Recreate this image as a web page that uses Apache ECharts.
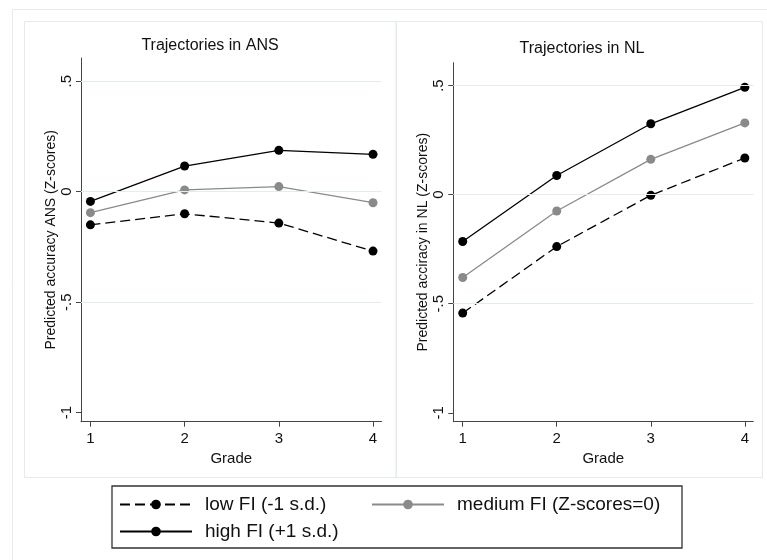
<!DOCTYPE html>
<html>
<head>
<meta charset="utf-8">
<script src="https://cdn.jsdelivr.net/npm/echarts@6/dist/echarts.min.js"></script>
<style>
    html, body { margin: 0; padding: 0; background: #fff; }
    #chart { width: 767px; height: 560px; }
</style>
</head>
<body>
<div id="chart"></div>
<script>
    // grade on the x axis
    let grades = [1, 2, 3, 4];
    let yTicks = [-1, -0.5, 0, 0.5];
    let gridValues = [-0.5, 0, 0.5];

    // ANS panel
    let ansLow = [-0.150, -0.100, -0.142, -0.269];
    let ansMedium = [-0.095, 0.008, 0.023, -0.050];
    let ansHigh = [-0.044, 0.116, 0.187, 0.169];

    // NL panel
    let nlLow = [-0.543, -0.238, -0.003, 0.168];
    let nlMedium = [-0.380, -0.075, 0.162, 0.329];
    let nlHigh = [-0.215, 0.088, 0.325, 0.492];

    let names = ['low FI (-1 s.d.)', 'medium FI (Z-scores=0)', 'high FI (+1 s.d.)'];
    let titles = ['Trajectories in ANS', 'Trajectories in NL'];
    let yNames = ['Predicted accuracy ANS (Z-scores)', 'Predicted acciracy in NL (Z-scores)'];

    const font = 'Liberation Sans, Arial, sans-serif';
    const ink = '#111';
    const frame = '#e3ebef';

    function stataLabel(v) {
        if (v === 0) return '0';
        return String(v).replace('0.', '.');
    }

    function pairs(values) {
        return values.map((v, i) => [grades[i], v]);
    }

    function xAxisFor(idx) {
        return {
            type: 'value',
            gridIndex: idx,
            min: 0.9,
            max: 4.09,
            name: 'Grade',
            nameLocation: 'middle',
            nameGap: 23,
            nameTextStyle: { color: ink, fontSize: 15, fontFamily: font },
            axisLine: { show: true, onZero: false, lineStyle: { color: '#444', width: 1 } },
            axisTick: { show: true, length: 5, customValues: grades, lineStyle: { color: '#444' } },
            axisLabel: { customValues: grades, margin: 10, color: ink, fontSize: 15, fontFamily: font },
            splitLine: { show: false }
        };
    }

    function yAxisFor(idx, name) {
        return {
            type: 'value',
            gridIndex: idx,
            min: -1.041,
            max: 0.605,
            name: name,
            nameLocation: 'middle',
            nameRotate: 90,
            nameGap: 23,
            nameTextStyle: { color: ink, fontSize: 14, fontFamily: font },
            axisLine: { show: true, onZero: false, lineStyle: { color: '#444', width: 1 } },
            axisTick: { show: true, length: 5, customValues: yTicks, lineStyle: { color: '#444' } },
            axisLabel: {
                customValues: yTicks, rotate: 90, margin: 7,
                color: ink, fontSize: 15, fontFamily: font,
                formatter: stataLabel
            },
            splitLine: { show: false }
        };
    }

    function lineSeries(name, values, idx, style) {
        return {
            type: 'line',
            name: name,
            xAxisIndex: idx,
            yAxisIndex: idx,
            data: pairs(values),
            symbol: 'circle',
            symbolSize: 9,
            z: 3,
            itemStyle: { color: style.color },
            lineStyle: { color: style.color, width: style.width, type: style.type },
            emphasis: { disabled: true }
        };
    }

    // light gridlines at the inner ticks only
    function gridSeries(idx) {
        return {
            type: 'line',
            xAxisIndex: idx,
            yAxisIndex: idx,
            data: [],
            z: 1,
            silent: true,
            markLine: {
                silent: true,
                symbol: 'none',
                label: { show: false },
                lineStyle: { color: '#e2edf0', width: 1, type: 'solid' },
                data: gridValues.map(v => ({ yAxis: v }))
            }
        };
    }

    let lowStyle = { color: '#000', width: 1.3, type: [10, 5] };
    let mediumStyle = { color: '#8a8a8a', width: 1.3, type: 'solid' };
    let highStyle = { color: '#000', width: 1.3, type: 'solid' };

    let legendBase = {
        padding: 0,
        itemWidth: 72,
        itemHeight: 12,
        itemGap: 20,
        selectedMode: false,
        textStyle: { color: ink, fontSize: 19, fontFamily: font, padding: [0, 0, 0, 8] }
    };

    let chart = echarts.init(document.getElementById('chart'));
    chart.setOption({
        backgroundColor: '#fff',
        animation: false,
        grid: [
            { left: 81, top: 58, right: 385.5, bottom: 138.3 },
            { left: 453.3, top: 62.7, right: 13.7, bottom: 138.3 }
        ],
        xAxis: [xAxisFor(0), xAxisFor(1)],
        yAxis: [yAxisFor(0, yNames[0]), yAxisFor(1, yNames[1])],
        legend: [
            Object.assign({}, legendBase, { data: [names[0]], left: 119, top: 495 }),
            Object.assign({}, legendBase, { data: [names[1]], left: 371, top: 495 }),
            Object.assign({}, legendBase, { data: [names[2]], left: 119, top: 522 })
        ],
        graphic: [
            // outer frame and the two panels
            { type: 'rect', z: -10, shape: { x: 12.5, y: 9.5, width: 800, height: 600 }, style: { fill: '#fff', stroke: frame, lineWidth: 1 } },
            { type: 'rect', z: -9, shape: { x: 24.5, y: 21.5, width: 371.5, height: 456 }, style: { fill: '#fff', stroke: frame, lineWidth: 1 } },
            { type: 'rect', z: -9, shape: { x: 396.5, y: 21.5, width: 366, height: 456 }, style: { fill: '#fff', stroke: frame, lineWidth: 1 } },
            // legend box
            { type: 'rect', z: -5, shape: { x: 112, y: 486, width: 570, height: 62 }, style: { fill: '#fff', stroke: '#333', lineWidth: 1.3 } },
            // panel titles
            { type: 'text', x: 210, y: 46, style: { text: titles[0], fill: ink, font: '16px ' + font, textAlign: 'center', textVerticalAlign: 'middle' } },
            { type: 'text', x: 582, y: 49, style: { text: titles[1], fill: ink, font: '16px ' + font, textAlign: 'center', textVerticalAlign: 'middle' } }
        ],
        series: [
            gridSeries(0),
            gridSeries(1),
            lineSeries(names[0], ansLow, 0, lowStyle),
            lineSeries(names[1], ansMedium, 0, mediumStyle),
            lineSeries(names[2], ansHigh, 0, highStyle),
            lineSeries(names[0], nlLow, 1, lowStyle),
            lineSeries(names[1], nlMedium, 1, mediumStyle),
            lineSeries(names[2], nlHigh, 1, highStyle)
        ]
    });
</script>
</body>
</html>
